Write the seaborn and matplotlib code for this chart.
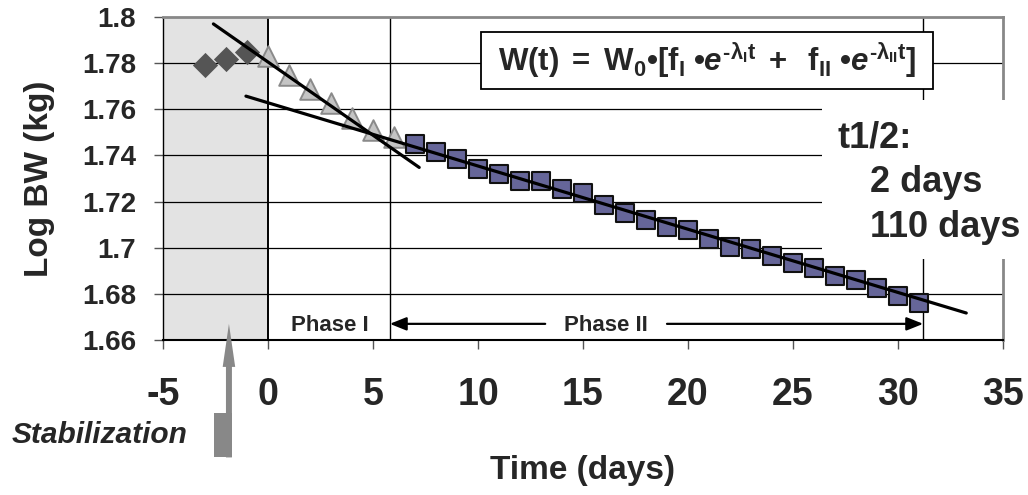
import matplotlib
matplotlib.use("Agg")
import matplotlib.pyplot as plt
import seaborn as sns
from matplotlib.patches import Rectangle

# Log body weight before treatment (stabilization period)
stab_days = [-3, -2, -1]
stab_logbw = [1.779, 1.782, 1.785]

# Phase I: rapid initial loss
phase1_days = [0, 1, 2, 3, 4, 5, 6]
phase1_logbw = [1.783, 1.7748, 1.7687, 1.7626, 1.7561, 1.7509, 1.7478]

# Phase II: slow loss
phase2_days = list(range(7, 32))
phase2_logbw = [1.7448, 1.7414, 1.7383, 1.7342, 1.7320, 1.7287, 1.7287,
                1.7255, 1.7236, 1.7183, 1.7149, 1.7120, 1.7088, 1.7078,
                1.7036, 1.7004, 1.6994, 1.6963, 1.6932, 1.6912, 1.6878,
                1.6860, 1.6825, 1.6791, 1.6762]

# Fitted exponential components (straight lines on log scale)
fit1_days = [-2.6, 7.2]
fit1_logbw = [1.797, 1.7348]
fit2_days = [-1.05, 33.25]
fit2_logbw = [1.7657, 1.6717]

# Phase boundaries (days)
stab_start, stab_end = -5, 0
phase1_end = 5.8
phase2_end = 31.2

xticks = [-5, 0, 5, 10, 15, 20, 25, 30, 35]
xtick_labels = ["-5", "0", "5", "10", "15", "20", "25", "30", "35"]
yticks = [1.66, 1.68, 1.70, 1.72, 1.74, 1.76, 1.78, 1.80]
ytick_labels = ["1.66", "1.68", "1.7", "1.72", "1.74", "1.76", "1.78", "1.8"]

halflife_title = "t1/2:"
halflife_lines = ["2 days", "110 days"]

sns.set_theme(style="white")
plt.rcParams["font.family"] = ["Liberation Sans", "DejaVu Sans"]
plt.rcParams["font.weight"] = "bold"
plt.rcParams["mathtext.fontset"] = "custom"
plt.rcParams["mathtext.rm"] = "Liberation Sans:bold"
plt.rcParams["mathtext.it"] = "Liberation Sans:italic:bold"
plt.rcParams["mathtext.bf"] = "Liberation Sans:bold"

fig = plt.figure(figsize=(10.28, 4.95), dpi=100)
ax = fig.add_axes([163 / 1028, 1 - 340 / 495, 840 / 1028, 323 / 495])
ax.set_xlim(-5, 35)
ax.set_ylim(1.66, 1.80)

# stabilization shading
ax.add_patch(Rectangle((stab_start, 1.66), stab_end - stab_start, 0.14,
                       facecolor="#e3e3e3", edgecolor="black", lw=1.4, zorder=0.8))

# horizontal grid
for y in yticks[1:-1]:
    ax.axhline(y, color="black", lw=0.9, zorder=1)
ax.axvline(phase1_end, color="black", lw=1.0, zorder=1)
ax.axvline(phase2_end, color="black", lw=1.0, zorder=1)

# white panel behind the half-life text
ax.add_patch(Rectangle((26.4, 1.6952), 10.5, 0.0687, transform=ax.transData,
                       facecolor="white", edgecolor="none", clip_on=False, zorder=2.6))

# formula box
ax.add_patch(Rectangle((10.16, 1.7687), 21.5, 0.0248, facecolor="white",
                       edgecolor="black", lw=1.3, zorder=2.7))
formula = (r"$\mathrm{W(t)\;=\;W_0•[f_I\;•}e^{\mathrm{‐λ_I t}}"
           r"\mathrm{\;+\;\;f_{II}\;•}e^{\mathrm{‐λ_{II} t}}\mathrm{]}$")
ax.text(20.9, 1.7811, formula, ha="center", va="center", fontsize=22.5, zorder=7)

# data points
sns.scatterplot(x=stab_days, y=stab_logbw, marker="D", s=165, color="#555555",
                edgecolor="#555555", linewidth=0, zorder=4, ax=ax, legend=False)
sns.scatterplot(x=phase1_days, y=phase1_logbw, marker="^", s=220, color="#c4c4c4",
                edgecolor="#8a8a8a", linewidth=1.4, zorder=4, ax=ax, legend=False)
sns.scatterplot(x=phase2_days, y=phase2_logbw, marker="s", s=150, color="#666699",
                edgecolor="#111111", linewidth=1.5, zorder=4, ax=ax, legend=False)

# fitted lines
sns.lineplot(x=fit1_days, y=fit1_logbw, color="black", linewidth=2.3, zorder=5,
             ax=ax, sort=False, legend=False)
sns.lineplot(x=fit2_days, y=fit2_logbw, color="black", linewidth=2.3, zorder=5,
             ax=ax, sort=False, legend=False)

# phase labels and arrows
ax.text(2.95, 1.6662, "Phase I", ha="center", va="center", fontsize=16, zorder=7)
ax.text(16.1, 1.6662, "Phase II", ha="center", va="center", fontsize=16, zorder=7)
arrow_kw = dict(arrowstyle="-|>,head_length=0.5,head_width=0.2", mutation_scale=20,
                color="black", lw=1.6, shrinkA=0, shrinkB=0)
ax.annotate("", xy=(phase1_end, 1.667), xytext=(13.2, 1.667), arrowprops=arrow_kw, zorder=7)
ax.annotate("", xy=(phase2_end, 1.667), xytext=(19.0, 1.667), arrowprops=arrow_kw, zorder=7)

# stabilization pointer
ax.add_patch(Rectangle((-2.58, 1.6091), 0.86, 0.0192, facecolor="#888888",
                       edgecolor="none", clip_on=False, zorder=6))
ax.annotate("", xy=(-1.86, 1.667), xytext=(-1.86, 1.6091),
            arrowprops=dict(arrowstyle="simple,head_length=31,head_width=9,tail_width=4.3",
                            mutation_scale=1, fc="#888888", ec="none",
                            shrinkA=0, shrinkB=0),
            annotation_clip=False, zorder=6)
fig.text(12 / 1028, 1 - 443 / 495, "Stabilization", fontsize=21.5, fontweight="bold",
         style="italic", ha="left", va="baseline")

# half-life text
fig.text(838 / 1028, 1 - 148 / 495, halflife_title, fontsize=26, fontweight="bold",
         ha="left", va="baseline")
fig.text(870 / 1028, 1 - 192 / 495, halflife_lines[0], fontsize=26, fontweight="bold",
         ha="left", va="baseline")
fig.text(870 / 1028, 1 - 237 / 495, halflife_lines[1], fontsize=26, fontweight="bold",
         ha="left", va="baseline")

# axes styling
ax.set_xticks(xticks)
ax.set_xticklabels(xtick_labels, fontsize=27, fontweight="bold")
ax.set_yticks(yticks)
ax.set_yticklabels(ytick_labels, fontsize=20, fontweight="bold")
ax.tick_params(axis="x", bottom=True, direction="out", length=6.5, width=1,
               color="#555555", pad=20)
ax.tick_params(axis="y", left=True, direction="out", length=6.5, width=1,
               color="#555555", pad=13)
for side in ("top", "right"):
    ax.spines[side].set_color("#888888")
    ax.spines[side].set_linewidth(2)
ax.spines["left"].set_color("black")
ax.spines["left"].set_linewidth(1)
ax.spines["bottom"].set_color("black")
ax.spines["bottom"].set_linewidth(1.5)

ax.set_xlabel("Time (days)", fontsize=24, fontweight="bold")
ax.set_ylabel("Log BW (kg)", fontsize=24, fontweight="bold")
ax.xaxis.set_label_coords(0.5, -0.356)
ax.yaxis.set_label_coords(-0.128, 0.5)

fig.savefig("out.png", dpi=100)
